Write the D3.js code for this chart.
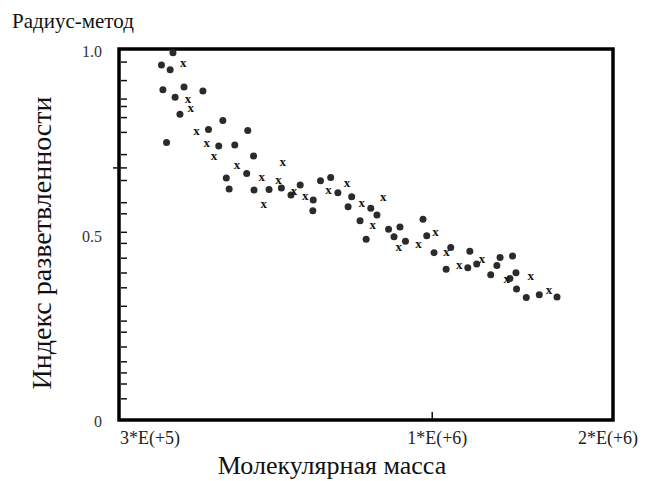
<!DOCTYPE html>
<html>
<head>
<meta charset="utf-8">
<script src="https://cdn.jsdelivr.net/npm/d3@7"></script>
<style>
  body { margin: 0; background: #fff; }
  svg { display: block; }
  text { font-family: "Liberation Serif", "Times New Roman", serif; fill: #111; }
</style>
</head>
<body>
<div class="container"></div>
<script>
// molecular mass in units of 1e5, branching index
const dotMass = [3.68, 3.52, 3.64, 3.54, 3.84, 4.13, 3.71, 3.78, 4.46, 4.22, 4.91, 3.59, 4.39, 4.67, 5.02,
  4.89, 4.52, 4.57, 5.03, 5.33, 5.59, 5.80, 6.01, 6.32, 6.31, 6.50, 6.76, 6.95, 7.33, 7.23,
  7.89, 8.08, 7.57, 7.75, 8.45, 8.83, 8.63, 9.02, 9.65, 9.79, 10.07, 10.74, 10.55, 11.47, 11.56,
  11.87, 12.99, 13.63, 12.83, 12.53, 13.49, 13.81, 13.84, 14.37, 15.11, 16.18]
const dotIndex = [0.995, 0.962, 0.949, 0.895, 0.903, 0.892, 0.875, 0.829, 0.812, 0.788, 0.785, 0.753, 0.743, 0.746, 0.716,
  0.669, 0.657, 0.627, 0.624, 0.626, 0.630, 0.611, 0.638, 0.597, 0.568, 0.649, 0.658, 0.617, 0.606, 0.579,
  0.575, 0.557, 0.541, 0.491, 0.518, 0.524, 0.498, 0.486, 0.545, 0.501, 0.455, 0.469, 0.410, 0.414, 0.459,
  0.424, 0.442, 0.446, 0.420, 0.395, 0.385, 0.401, 0.357, 0.334, 0.341, 0.335]

const crossMass = [3.83, 3.90, 3.94, 4.03, 4.19, 4.31, 4.71, 5.62, 5.18, 5.53, 5.87, 6.13, 6.70, 5.22,
  7.20, 7.62, 8.28, 7.95, 8.79, 9.48, 10.13, 10.57, 11.10, 12.11, 13.33, 14.62, 15.69]
const crossIndex = [0.965, 0.869, 0.843, 0.782, 0.748, 0.715, 0.691, 0.699, 0.657, 0.648, 0.620, 0.605, 0.621, 0.584,
  0.641, 0.586, 0.603, 0.527, 0.469, 0.476, 0.509, 0.454, 0.420, 0.436, 0.383, 0.389, 0.351]

const xTickValues = [3e5, 1e6, 2e6]
const xTickLabels = ["3*E(+5)", "1*E(+6)", "2*E(+6)"]
const yTickValues = [0, 0.5, 1.0]
const yTickLabels = ["0", "0.5", "1.0"]
const yMinorTicks = [0.97, 0.92, 0.87, 0.85, 0.82, 0.78, 0.72, 0.65, 0.59, 0.56, 0.51, 0.48, 0.44,
  0.40, 0.36, 0.31, 0.27, 0.24, 0.20, 0.16, 0.13, 0.10, 0.06]
const yLongTick = 0.684

const title = "Радиус-метод"
const xTitle = "Молекулярная масса"
const yTitle = "Индекс разветвленности"

const width = 645
const height = 481
const plotLeft = 120, plotRight = 612, plotTop = 49, plotBottom = 421

const x = d3.scaleLog()
    .domain([3e5, 2e6])
    .range([plotLeft, plotRight])

const y = d3.scaleLinear()
    .domain([0, 1])
    .range([plotBottom, 51])

const svg = d3.select(".container").append("svg")
    .attr("width", width)
    .attr("height", height)

// frame
svg.append("rect")
    .attr("x", plotLeft - 1)
    .attr("y", plotTop)
    .attr("width", plotRight - plotLeft + 2)
    .attr("height", plotBottom - plotTop - 1)
    .attr("fill", "none")
    .attr("stroke", "#000")
    .attr("stroke-width", 3.5)

// y minor ticks, inside
svg.append("g")
    .selectAll("line")
    .data(yMinorTicks)
    .enter()
    .append("line")
    .attr("x1", plotLeft + 1)
    .attr("x2", plotLeft + 7)
    .attr("y1", d => y(d))
    .attr("y2", d => y(d))
    .attr("stroke", "#111")
    .attr("stroke-width", 1.5)

svg.append("line")
    .attr("x1", plotLeft - 7)
    .attr("x2", plotLeft + 7)
    .attr("y1", y(yLongTick))
    .attr("y2", y(yLongTick))
    .attr("stroke", "#111")
    .attr("stroke-width", 1.5)

// x tick at 1E6
svg.append("line")
    .attr("x1", x(1e6))
    .attr("x2", x(1e6))
    .attr("y1", plotBottom - 2)
    .attr("y2", plotBottom - 9)
    .attr("stroke", "#111")
    .attr("stroke-width", 1.5)

svg.append("g")
    .selectAll("text")
    .data(yTickValues)
    .enter()
    .append("text")
    .attr("x", 102)
    .attr("y", d => y(d))
    .attr("dy", "0.35em")
    .attr("text-anchor", "end")
    .style("font-size", "16px")
    .style("fill", "#333")
    .text((d, i) => yTickLabels[i])

const xLabelShift = [30, 5, -4]
svg.append("g")
    .selectAll("text")
    .data(xTickValues)
    .enter()
    .append("text")
    .attr("x", (d, i) => x(d) + xLabelShift[i])
    .attr("y", 444)
    .attr("text-anchor", "middle")
    .style("font-size", "18px")
    .style("fill", "#222")
    .text((d, i) => xTickLabels[i])

// points
svg.append("g")
    .selectAll("circle")
    .data(dotMass)
    .enter()
    .append("circle")
    .attr("cx", d => x(d * 1e5))
    .attr("cy", (d, i) => y(dotIndex[i]))
    .attr("r", 3.5)
    .attr("fill", "#2b2b2b")

svg.append("g")
    .selectAll("text")
    .data(crossMass)
    .enter()
    .append("text")
    .attr("x", d => x(d * 1e5))
    .attr("y", (d, i) => y(crossIndex[i]))
    .attr("dy", "0.25em")
    .attr("text-anchor", "middle")
    .style("font-size", "13px")
    .style("font-weight", "bold")
    .text("x")

// titles
svg.append("text")
    .attr("x", 12)
    .attr("y", 28)
    .style("font-size", "21px")
    .text(title)

svg.append("text")
    .attr("x", 332)
    .attr("y", 474)
    .attr("text-anchor", "middle")
    .style("font-size", "26px")
    .text(xTitle)

svg.append("text")
    .attr("transform", "translate(51,243) rotate(-90)")
    .attr("text-anchor", "middle")
    .style("font-size", "28px")
    .text(yTitle)
</script>
</body>
</html>
